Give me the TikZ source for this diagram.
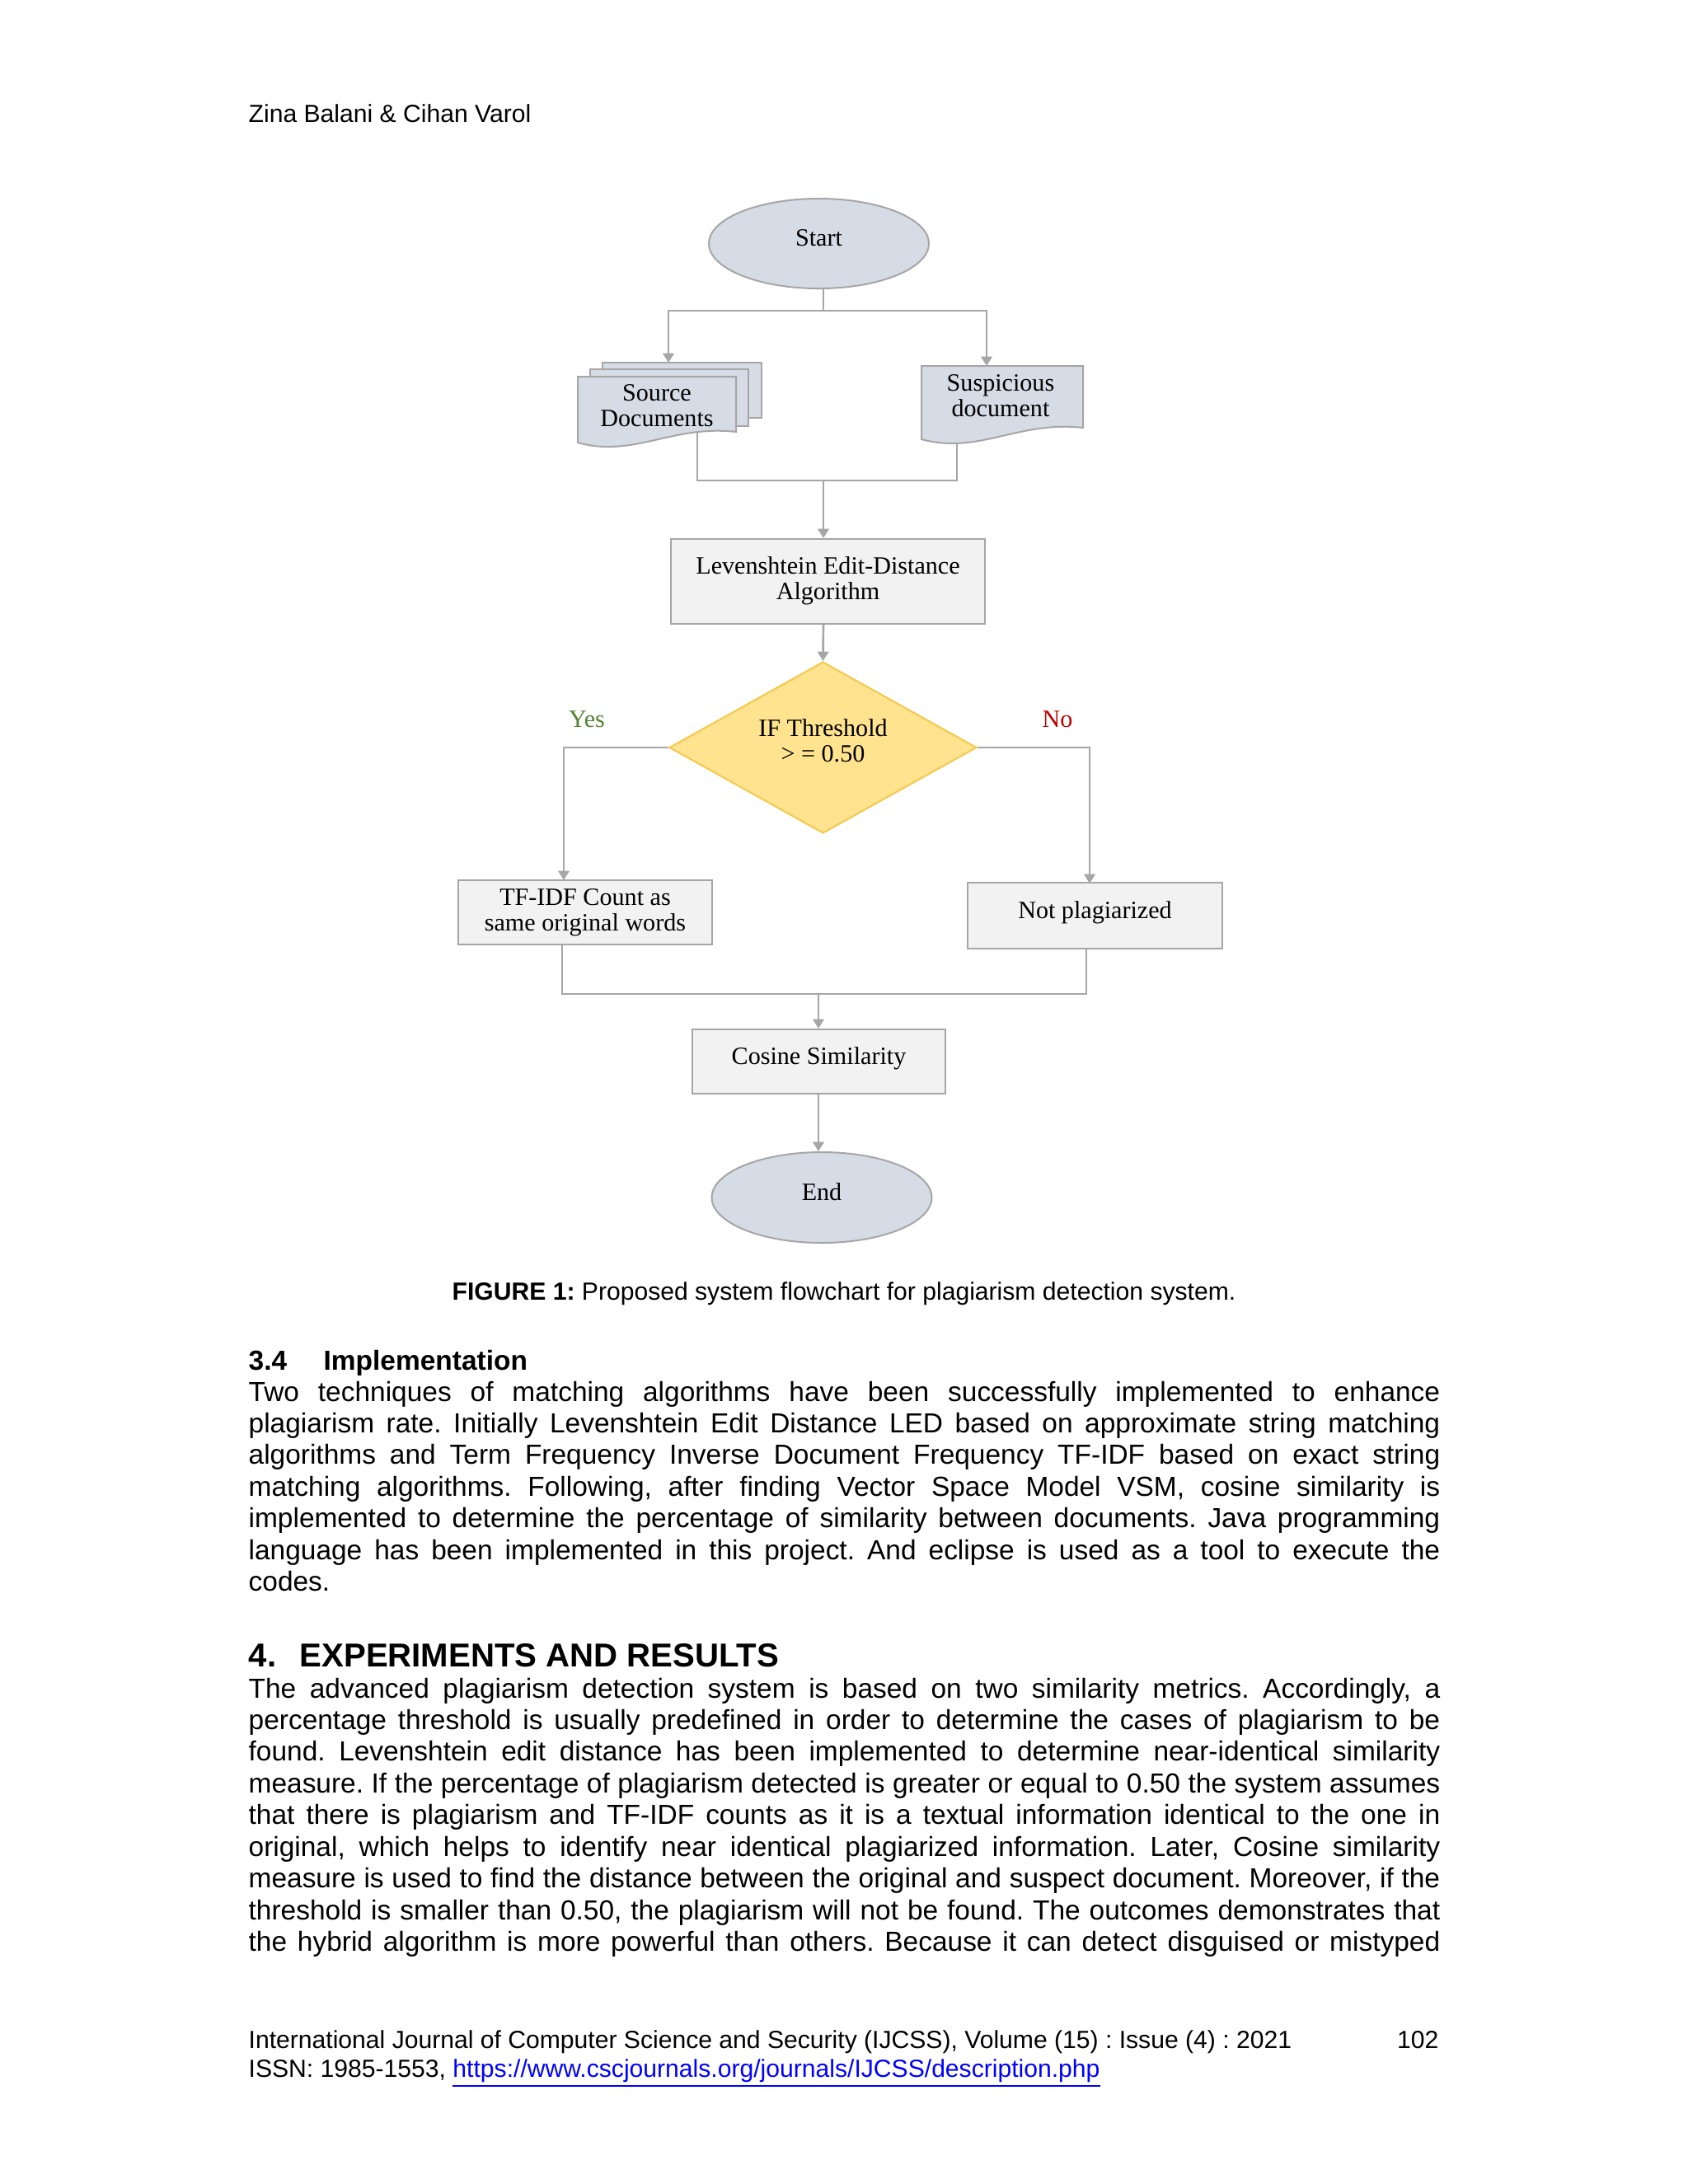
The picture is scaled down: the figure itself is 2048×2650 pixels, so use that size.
\documentclass[tikz,border=0pt]{standalone}
\usepackage{fontspec}
\setmainfont{Liberation Sans}
\newfontfamily\fcfont{Liberation Serif}
\usetikzlibrary{shapes.geometric,arrows.meta}
\definecolor{lnc}{HTML}{A6A6A6}
\definecolor{ellf}{HTML}{D6DCE5}
\definecolor{boxf}{HTML}{F2F2F2}
\definecolor{dmf}{HTML}{FFE38F}
\definecolor{dmd}{HTML}{F5C84C}
\definecolor{yesc}{HTML}{548235}
\definecolor{noc}{HTML}{C00000}
\definecolor{urlc}{HTML}{0000FF}
\newcommand\pxu{0.29883pt}
\newcommand\jl[1]{\hbox to 432pt{#1}}
\newcommand\lowpad[1]{\rule[-#1]{0pt}{0pt}}
\frenchspacing
\begin{document}
\frenchspacing
\begin{tikzpicture}[x=0.29883pt,y=-0.29883pt,
  fc/.style={font=\fcfont\fontsize{9}{9.2}\selectfont, align=center, text=black},
  term/.style={fc, ellipse, draw=lnc, fill=ellf, line width=0.6pt, minimum width=267*\pxu, minimum height=109*\pxu, inner sep=0},
  proc/.style={fc, rectangle, draw=lnc, fill=boxf, line width=0.6pt, inner sep=0},
  dec/.style={fc, diamond, draw=dmd, fill=dmf, line width=0.6pt, inner sep=0, aspect=1.79, minimum width=373*\pxu, minimum height=208*\pxu},
  docshape/.style={draw=lnc, fill=ellf, line width=0.6pt},
  conn/.style={draw=lnc, line width=0.8pt},
  arr/.style={conn, -{Triangle[width=4pt,length=3.4pt]}},
  body/.style={font=\frenchspacing\fontsize{10}{11.5}\selectfont, inner sep=0, anchor=base west},
  small/.style={font=\frenchspacing\fontsize{9}{10.5}\selectfont, inner sep=0, anchor=base west}]
\path[use as bounding box, fill=white] (0,0) rectangle (2048,2650);

% header
\node[small] (hdr) at (301,148) {Zina Balani \& Cihan Varol};

% ---------- flowchart ----------
\node[term] (start) at (993.5,295.5) {Start\lowpad{4.4pt}};

% source documents (stack of pages)
\path[docshape] (731,440) rectangle (924,507);
\path[docshape] (716,448) rectangle (908,517);
\path[docshape] (701,457) -- (893,457) -- (893,524) .. controls (816,515) and (768,556) .. (701,537) -- cycle;
\node[fc] (src) at (797,492) {Source\\Documents};

% suspicious document
\path[docshape] (1118,444) -- (1314,444) -- (1314,519) .. controls (1236,510) and (1187,552) .. (1118,533) -- cycle;
\node[fc] (sus) at (1214,480) {Suspicious\\document};

\node[proc, minimum width=381*\pxu, minimum height=103*\pxu] (lev) at (1004.5,705.5) {Levenshtein Edit-Distance\\Algorithm\lowpad{2.2pt}};
\node[dec] (thr) at (998.5,907) {IF Threshold\\> = 0.50\lowpad{5pt}};
\node[proc, minimum width=308*\pxu, minimum height=78*\pxu] (tfidf) at (710,1107) {TF-IDF Count as\\same original words};
\node[proc, minimum width=309*\pxu, minimum height=80*\pxu] (notpl) at (1328.5,1111) {Not plagiarized\lowpad{4pt}};
\node[proc, minimum width=307*\pxu, minimum height=78*\pxu] (cos) at (993.5,1288) {Cosine Similarity\lowpad{4pt}};
\node[term, minimum height=110*\pxu] (endn) at (997,1453) {End\lowpad{4.4pt}};

\node[fc, text=yesc] (yes) at (712,873) {Yes};
\node[fc, text=noc] (no) at (1283,873) {No};

% junction coordinates
\coordinate (j1) at (999,377);
\coordinate (srcin) at (811,440);
\coordinate (susin) at (1197,444);
\coordinate (srcout) at (846,525);
\coordinate (susout) at (1161,538);
\coordinate (j2) at (999,583);
\coordinate (yesin) at (684,1068);
\coordinate (noin) at (1322,1072);
\coordinate (tfout) at (682,1146);
\coordinate (npout) at (1318,1151);
\coordinate (j3) at (993,1206);

\draw[conn] (start.south -| j1) -- (j1);
\draw[arr] (j1) -| (srcin);
\draw[arr] (j1) -| (susin);
\draw[conn] (srcout) |- (j2);
\draw[conn] (susout) |- (j2);
\draw[arr] (j2) -- (lev.north -| j2);
\draw[arr] (lev.south -| j2) -- (thr.north);
\draw[arr] (thr.west) -| (yesin);
\draw[arr] (thr.east) -| (noin);
\draw[conn] (tfout) |- (j3);
\draw[conn] (npout) |- (j3);
\draw[arr] (j3) -- (cos.north -| j3);
\draw[arr] (cos.south -| j3) -- (endn.north -| j3);

% caption
\node[font=\frenchspacing\fontsize{9}{10.5}\selectfont, inner sep=0, anchor=base] (cap) at (1024,1577) {\textbf{FIGURE 1:} Proposed system flowchart for plagiarism detection system.};

% section 3.4
\node[body, font=\bfseries\fontsize{10}{11.5}\selectfont] (s34n) at (301,1662) {3.4};
\node[body, font=\bfseries\fontsize{10}{11.5}\selectfont] (s34t) at (392,1662) {Implementation};
\node[body] (p1) at (301,1700) {\vtop{%
\jl{Two techniques of matching algorithms have been successfully implemented to enhance}
\jl{plagiarism rate. Initially Levenshtein Edit Distance LED based on approximate string matching}
\jl{algorithms and Term Frequency Inverse Document Frequency TF-IDF based on exact string}
\jl{matching algorithms. Following, after finding Vector Space Model VSM, cosine similarity is}
\jl{implemented to determine the percentage of similarity between documents. Java programming}
\jl{language has been implemented in this project. And eclipse is used as a tool to execute the}
\hbox{codes.}}};

% section 4
\node[body, font=\bfseries\fontsize{12}{14}\selectfont] (s4n) at (301,2022) {4.};
\node[body, font=\bfseries\fontsize{12}{14}\selectfont] (s4t) at (363,2022) {EXPERIMENTS AND RESULTS};
\node[body] (p2) at (301,2060) {\vtop{%
\jl{The advanced plagiarism detection system is based on two similarity metrics. Accordingly, a}
\jl{percentage threshold is usually predefined in order to determine the cases of plagiarism to be}
\jl{found. Levenshtein edit distance has been implemented to determine near-identical similarity}
\jl{measure. If the percentage of plagiarism detected is greater or equal to 0.50 the system assumes}
\jl{that there is plagiarism and TF-IDF counts as it is a textual information identical to the one in}
\jl{original, which helps to identify near identical plagiarized information. Later, Cosine similarity}
\jl{measure is used to find the distance between the original and suspect document. Moreover, if the}
\jl{threshold is smaller than 0.50, the plagiarism will not be found. The outcomes demonstrates that}
\jl{the hybrid algorithm is more powerful than others. Because it can detect disguised or mistyped}}};

% footer
\node[small] (ft1) at (301,2485) {International Journal of Computer Science and Security (IJCSS), Volume (15) : Issue (4) : 2021};
\node[small, anchor=base east] (pg) at (1746,2485) {102};
\node[small] (ft2) at (301,2520) {ISSN: 1985-1553, \textcolor{urlc}{\underline{https://www.cscjournals.org/journals/IJCSS/description.php}}};
\end{tikzpicture}
\end{document}
